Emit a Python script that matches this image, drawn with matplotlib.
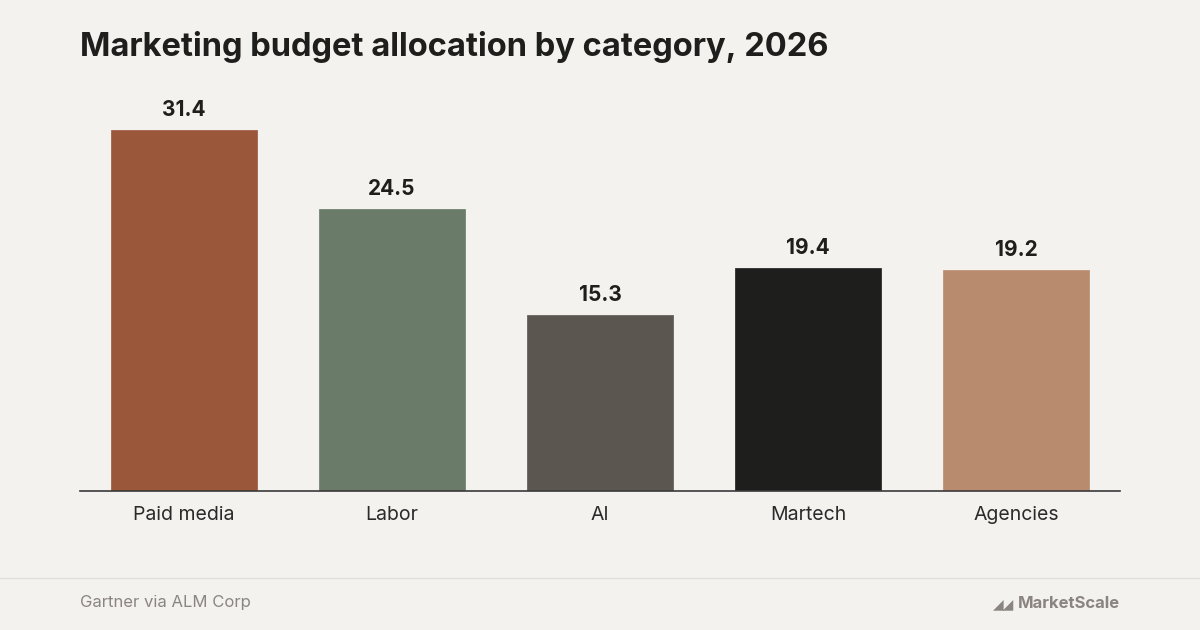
import matplotlib
matplotlib.use("Agg")
import matplotlib.pyplot as plt
from matplotlib.lines import Line2D

categories = ["Paid media", "Labor", "AI", "Martech", "Agencies"]
values = [31.4, 24.5, 15.3, 19.4, 19.2]
colors = ["#9A573A", "#6A7B6A", "#5C5650", "#1E1E1C", "#B98B6E"]

bg = "#F4F2EE"
plt.rcParams['font.family'] = ['Inter', 'DejaVu Sans']
fig = plt.figure(figsize=(12, 6.3), dpi=100, facecolor=bg)
ax = fig.add_axes([80/1200, (630-491)/630, 1040/1200, 391/630], facecolor=bg)

bars = ax.bar(range(len(categories)), values, width=0.70, color=colors,
              edgecolor=colors, linewidth=0.5, joinstyle="round", zorder=2)
for i, v in enumerate(values):
    ax.text(i, v + 0.9, f"{v}", ha="center", va="bottom", fontsize=15,
            fontweight="bold", color="#1E1E1C")
ax.set_xlim(-0.5, len(categories) - 0.5)
ax.set_ylim(0, 34)
ax.set_yticks([])
ax.set_xticks(range(len(categories)))
ax.set_xticklabels(categories, fontsize=14, color="#2A2A2A")
ax.tick_params(axis="x", length=0, pad=11)
for s in ["top", "right", "left"]:
    ax.spines[s].set_visible(False)
ax.spines["bottom"].set_color("#3A3A3A")
ax.spines["bottom"].set_linewidth(1.2)

fig.text(80/1200, 1 - 47/630, "Marketing budget allocation by category, 2026",
         fontsize=23.5, fontweight="bold", color="#1E1E1C", va="center", ha="left")
fig.add_artist(Line2D([0, 1], [1 - 578/630]*2, color="#E2DFDA", linewidth=1))
fig.text(80/1200, 1 - 603/630, "Gartner via ALM Corp", fontsize=12,
         color="#8A8580", va="center", ha="left")
fig.text(1120/1200, 1 - 604/630, "MarketScale", fontsize=12, fontweight="bold",
         color="#8A8580", va="center", ha="right")
fig.text(1014/1200, 1 - 604/630, "◢◢", fontsize=10, color="#8A8580",
         va="center", ha="right")
fig.savefig("out.png", dpi=100, facecolor=bg)
